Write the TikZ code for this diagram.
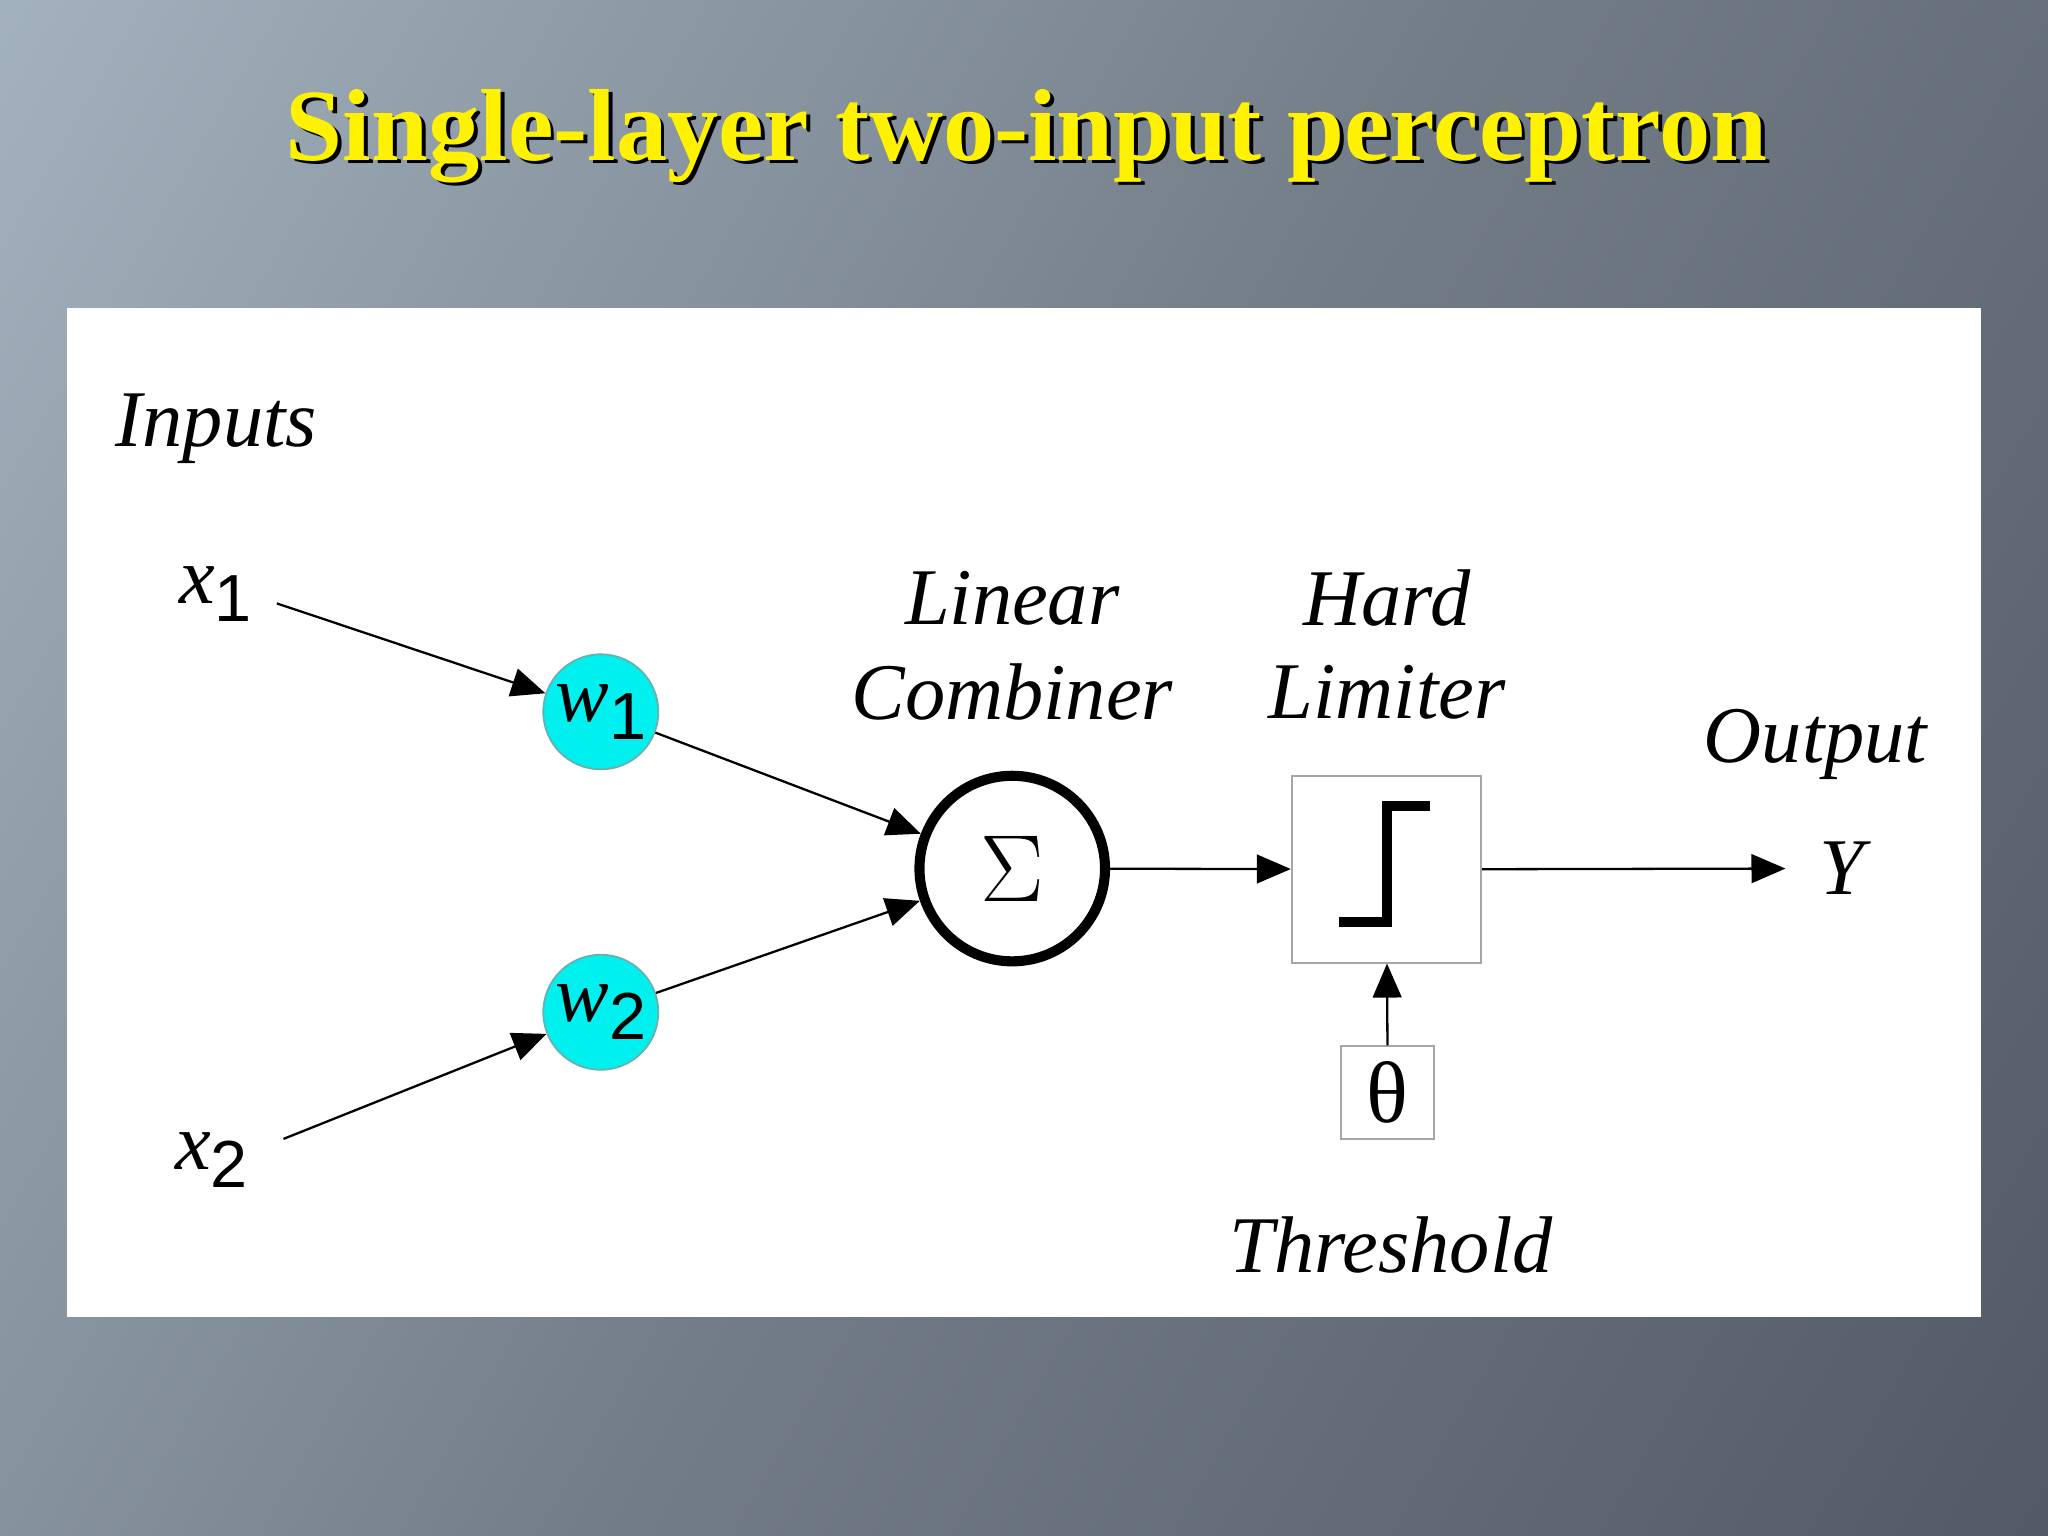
\documentclass[tikz,border=0pt]{standalone}
\usepackage{fontspec}
\setmainfont{Liberation Serif}
\newfontfamily\arialf{Liberation Sans}
\usetikzlibrary{arrows.meta,shadings}
\definecolor{bgA}{HTML}{A9B9C5}
\definecolor{bgM}{HTML}{737D88}
\definecolor{bgB}{HTML}{4D5560}
\definecolor{wcyan}{HTML}{00F0F0}
\tikzset{
  lab/.style={font=\fontsize{17.5}{19}\selectfont\itshape, inner sep=0},
  con/.style={-{Triangle[length=0.26cm,width=0.22cm]}, line width=0.5pt},
  wnode/.style={circle, fill=wcyan, draw=teal!60, minimum size=0.88cm, inner sep=0},
}
\newcommand{\sub}[1]{\raisebox{-0.5ex}{\upshape\arialf\fontsize{14.5}{15}\selectfont #1}}
\begin{document}
\begin{tikzpicture}[x=0.01cm,y=-0.01cm]
\useasboundingbox (0,0) rectangle (1568,1176);
\shade[left color=bgA, right color=bgB, middle color=bgM, shading angle=60] (-400,-400) rectangle (1968,1576);
\node[font=\fontsize{22.3}{23}\selectfont\bfseries, text=black] at (789,107) {Single-layer two-input perceptron};
\node[font=\fontsize{22.3}{23}\selectfont\bfseries, text=yellow] (title) at (786,104) {Single-layer two-input perceptron};
\fill[white] (51,236) rectangle (1517,1008);
\node[lab, anchor=west] (inputs) at (88,328) {Inputs};
\node[lab] (x1) at (165,455) {x\sub{1}};
\node[lab] (x2) at (162,888) {x\sub{2}};
\node[wnode] (w1) at (460,545) {\fontsize{17.5}{19}\selectfont\textit{w}\sub{1}};
\node[wnode] (w2) at (460,775) {\fontsize{17.5}{19}\selectfont\textit{w}\sub{2}};
\node[circle, draw, line width=2.2pt, minimum size=1.42cm, inner sep=0, font=\fontsize{22}{22}\selectfont] (sig) at (775,665) {$\Sigma$};
\node[draw=gray!70, line width=0.4pt, minimum width=1.45cm, minimum height=1.43cm, inner sep=0] (hl) at (1061.5,665.5) {};
\node[draw=gray!70, line width=0.4pt, minimum width=0.71cm, minimum height=0.71cm, inner sep=0, font=\fontsize{19}{20}\selectfont] (th) at (1062.5,836.5) {θ};
\node[lab] (lin) at (775,458) {Linear};
\node[lab] (comb) at (775,530) {Combiner};
\node[lab] (hard) at (1062,458) {Hard};
\node[lab] (lim) at (1062,530) {Limiter};
\node[lab] (out) at (1390,570) {Output};
\node[lab] (y) at (1410,665) {Y};
\node[lab] (thr) at (1065,953) {Threshold};
\draw[line width=2.2pt] (1025,706) -- (1062,706) -- (1062,617) -- (1095,617);
\coordinate (a1) at (212,462);
\coordinate (a2) at (217,872);
\coordinate (ye) at (1367,665);
\draw[con] (a1) -- (w1);
\draw[con] (a2) -- (w2);
\draw[con] (w1) -- (sig);
\draw[con] (w2) -- (sig);
\draw[con] (sig) -- (hl);
\draw[con] (th) -- (hl);
\draw[con] (hl.east) -- (ye);
\end{tikzpicture}
\end{document}
